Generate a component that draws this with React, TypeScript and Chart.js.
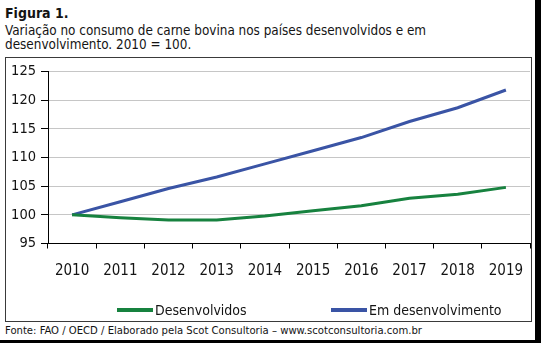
import React, { useEffect, useRef } from "react";
import { Chart, registerables } from "chart.js";

Chart.register(...registerables);

const years = ["2010", "2011", "2012", "2013", "2014", "2015", "2016", "2017", "2018", "2019"];
const desenvolvidos = [100, 99.5, 99.1, 99.1, 99.8, 100.7, 101.6, 102.9, 103.6, 104.8];
const emDesenvolvimento = [100, 102.3, 104.6, 106.6, 108.9, 111.2, 113.5, 116.3, 118.7, 121.8];
const yMin = 95;
const yMax = 125;
const yStep = 5;

const titleText = "Figura 1.";
const subtitleLines = [
  "Variação no consumo de carne bovina nos países desenvolvidos e em",
  "desenvolvimento. 2010 = 100.",
];
const sourceText = "Fonte: FAO / OECD / Elaborado pela Scot Consultoria – www.scotconsultoria.com.br";

const FONT = '"DejaVu Sans Condensed", "Liberation Sans", sans-serif';
const GREEN = "#17823f";
const BLUE = "#3a54a5";
const TEXT = "#141414";

const LEGEND_X = [111, 325];
const LEGEND_LINE_Y = 252;
const LEGEND_TEXT_Y = 257;

const legendPlugin = {
  id: "customLegend",
  afterDraw(chart: any) {
    const ctx = chart.ctx;
    chart.data.datasets.forEach((ds: any, i: number) => {
      const x = LEGEND_X[i];
      ctx.save();
      ctx.strokeStyle = ds.borderColor;
      ctx.lineWidth = 4;
      ctx.beginPath();
      ctx.moveTo(x, LEGEND_LINE_Y);
      ctx.lineTo(x + 36, LEGEND_LINE_Y);
      ctx.stroke();
      ctx.fillStyle = TEXT;
      ctx.font = `14px ${FONT}`;
      ctx.textBaseline = "alphabetic";
      ctx.textAlign = "left";
      ctx.fillText(ds.label, x + 38, LEGEND_TEXT_Y);
      ctx.restore();
    });
  },
};

export default function App() {
  const ref = useRef<HTMLCanvasElement>(null);

  useEffect(() => {
    document.body.style.margin = "0";
    const chart = new Chart(ref.current!, {
      type: "line",
      data: {
        labels: years,
        datasets: [
          {
            label: "Desenvolvidos",
            data: desenvolvidos,
            borderColor: GREEN,
            backgroundColor: GREEN,
            borderWidth: 3,
            pointRadius: 0,
            tension: 0,
          },
          {
            label: "Em desenvolvimento",
            data: emDesenvolvimento,
            borderColor: BLUE,
            backgroundColor: BLUE,
            borderWidth: 3,
            pointRadius: 0,
            tension: 0,
          },
        ],
      },
      options: {
        animation: false,
        responsive: false,
        maintainAspectRatio: false,
        layout: { padding: { left: 0, top: 12, right: 1, bottom: 37.5 } },
        plugins: {
          legend: { display: false },
          tooltip: { enabled: false },
          title: { display: false },
        },
        scales: {
          x: {
            type: "category",
            offset: true,
            grid: {
              offset: true,
              drawOnChartArea: false,
              drawTicks: true,
              tickLength: 5,
              tickColor: "#000",
              color: "#000",
            },
            border: { color: "#000", width: 1 },
            ticks: {
              color: TEXT,
              font: { family: FONT, size: 15 },
              padding: 14,
              maxRotation: 0,
              autoSkip: false,
            },
            afterFit: (s: any) => {
              s.height = 40;
              s.paddingLeft = 0;
              s.paddingRight = 0;
            },
          },
          y: {
            min: yMin,
            max: yMax,
            grid: {
              color: "#c6c6c6",
              lineWidth: 1,
              tickLength: 7,
              tickColor: "#000",
            },
            border: { color: "#000", width: 1 },
            ticks: {
              stepSize: yStep,
              color: TEXT,
              font: { family: FONT, size: 14.5 },
              padding: 5,
            },
            afterFit: (s: any) => {
              s.width = 42;
            },
          },
        },
      },
      plugins: [legendPlugin],
    });
    return () => chart.destroy();
  }, []);

  return (
    <div
      style={{
        position: "fixed",
        left: 0,
        top: 0,
        width: 541,
        height: 343,
        background: "#fff",
        overflow: "hidden",
        fontFamily: FONT,
        color: TEXT,
      }}
    >
      <div
        style={{
          position: "absolute",
          left: 5,
          top: 7,
          fontSize: 14,
          lineHeight: "13px",
          fontWeight: "bold",
          whiteSpace: "nowrap",
        }}
      >
        {titleText}
      </div>
      <div
        style={{
          position: "absolute",
          left: 5,
          top: 23.5,
          fontSize: 13.4,
          lineHeight: "14.5px",
          whiteSpace: "nowrap",
        }}
      >
        {subtitleLines.map((l, i) => (
          <div key={i}>{l}</div>
        ))}
      </div>
      <div
        style={{
          position: "absolute",
          left: 5,
          top: 57,
          width: 525,
          height: 263,
          border: "1px solid #3a3a3a",
        }}
      >
        <canvas ref={ref} width={525} height={263} style={{ display: "block", width: 525, height: 263 }} />
      </div>
      <div
        style={{
          position: "absolute",
          left: 5,
          top: 323.5,
          fontSize: 11.2,
          lineHeight: "14px",
          whiteSpace: "nowrap",
        }}
      >
        {sourceText}
      </div>
      <div style={{ position: "absolute", left: 535, top: 0, width: 6, height: 343, background: "#000" }} />
      <div style={{ position: "absolute", left: 0, top: 340, width: 541, height: 3, background: "#000" }} />
    </div>
  );
}
